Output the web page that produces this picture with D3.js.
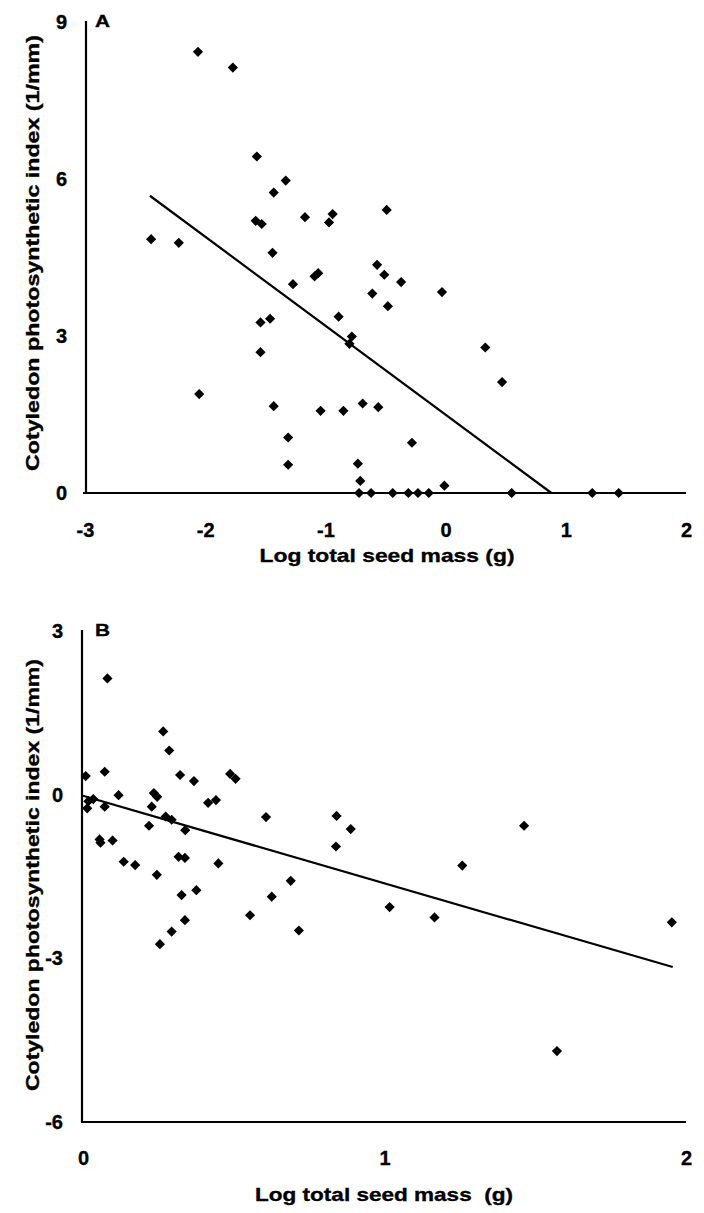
<!DOCTYPE html>
<html>
<head>
<meta charset="utf-8">
<script src="https://cdn.jsdelivr.net/npm/d3@7/dist/d3.min.js"></script>
<style>
  html, body { margin: 0; padding: 0; background: #fff; }
  svg { display: block; }
  text { font-family: "Liberation Sans", Arial, Helvetica, sans-serif; font-weight: bold; fill: #000; stroke: #000; stroke-width: 0.35px; }
</style>
</head>
<body>
<svg id="chart" width="704" height="1213"></svg>
<script>
// ---------- Data ----------
const xTicksA = [-3, -2, -1, 0, 1, 2];
const yTicksA = [0, 3, 6, 9];
const xTicksB = [0, 1, 2];
const yTicksB = [-6, -3, 0, 3];

const seedMassA = [-2.45, -2.22, -2.06, -2.05, -1.77, -1.57, -1.58, -1.53, -1.54, -1.46,
  -1.54, -1.44, -1.43, -1.43, -1.33, -1.31, -1.31, -1.27, -1.17, -1.09,
  -1.06, -1.04, -0.97, -0.94, -0.89, -0.85, -0.78, -0.80, -0.73, -0.71,
  -0.72, -0.69, -0.62, -0.61, -0.57, -0.56, -0.51, -0.49, -0.48, -0.44,
  -0.37, -0.31, -0.28, -0.23, -0.14, -0.03, -0.01, 0.33, 0.47, 0.55,
  1.22, 1.44];
const indexA = [4.85, 4.78, 8.43, 1.89, 8.13, 6.43, 5.20, 5.14, 3.26, 3.33,
  2.69, 4.59, 5.74, 1.66, 5.97, 1.06, 0.54, 3.99, 5.27, 4.14,
  4.20, 1.57, 5.17, 5.33, 3.37, 1.57, 2.99, 2.85, 0.56, 0.23,
  0, 1.71, 0, 3.81, 4.36, 1.64, 4.17, 5.41, 3.57, 0,
  4.03, 0, 0.96, 0, 0, 3.84, 0.14, 2.78, 2.12, 0,
  0, 0];
const fitA = [[-2.46, 5.68], [0.88, 0]];

const seedMassB = [0.009, 0.014, 0.018, 0.034, 0.055, 0.058, 0.072, 0.072, 0.081, 0.098,
  0.118, 0.135, 0.173, 0.219, 0.228, 0.235, 0.246, 0.245, 0.255, 0.266,
  0.274, 0.286, 0.294, 0.294, 0.317, 0.322, 0.327, 0.338, 0.338, 0.339,
  0.368, 0.376, 0.415, 0.441, 0.449, 0.488, 0.506, 0.554, 0.607, 0.626,
  0.689, 0.716, 0.839, 0.841, 0.888, 1.017, 1.166, 1.258, 1.463, 1.572,
  1.953];
const indexB = [0.34, -0.25, -0.12, -0.08, -0.82, -0.88, 0.42, -0.22, 2.13, -0.84,
  -0.01, -1.23, -1.29, -0.57, -0.22, 0.03, -0.04, -1.47, -2.74, 1.16,
  -0.40, 0.81, -0.46, -2.51, -1.14, 0.36, -1.84, -1.16, -2.30, -0.65,
  0.25, -1.75, -0.15, -0.10, -1.26, 0.38, 0.29, -2.21, -0.41, -1.87,
  -1.58, -2.49, -0.95, -0.39, -0.63, -2.06, -2.25, -1.30, -0.57, -4.70,
  -2.34];
const fitB = [[0, -0.02], [1.956, -3.16]];

const yTitle = "Cotyledon photosynthetic index (1/mm)";
const xTitleA = "Log total seed mass (g)";
const xTitleB = "Log total seed mass  (g)";

// ---------- Drawing ----------
const svg = d3.select("#chart");
const tickFont = 20;

function panel(cfg) {
  const g = svg.append("g");
  const x = d3.scaleLinear().domain(cfg.xDomain).range(cfg.xRange);
  const y = d3.scaleLinear().domain(cfg.yDomain).range(cfg.yRange);
  const fmt = d => String(d);

  const yAxis = g.append("g")
    .attr("transform", `translate(${cfg.yAxisX},0)`)
    .call(d3.axisLeft(y).tickValues(cfg.yTicks).tickSize(0).tickPadding(cfg.yPad).tickFormat(fmt));
  const xAxis = g.append("g")
    .attr("transform", `translate(0,${cfg.xAxisY})`)
    .call(d3.axisBottom(x).tickValues(cfg.xTicks).tickSize(0).tickPadding(cfg.xPad).tickFormat(fmt));

  [yAxis, xAxis].forEach(a => {
    a.select(".domain").attr("stroke", "#000").attr("stroke-width", 2.2);
    a.selectAll("text").attr("font-size", tickFont).attr("font-family", null).style("font-weight", "bold");
  });
  yAxis.select(".domain").attr("d", `M0,${cfg.yRange[0]}V${cfg.yRange[1] - 1}`);
  xAxis.select(".domain").attr("d", `M${cfg.xRange[0] - 2},0H${cfg.xRange[1]}`);

  // regression line
  g.append("path")
    .datum(cfg.fit)
    .attr("fill", "none")
    .attr("stroke", "#000")
    .attr("stroke-width", 2.2)
    .attr("d", d3.line().x(d => x(d[0])).y(d => y(d[1])));

  // points
  const sym = d3.symbol().type(d3.symbolSquare).size(52);
  g.selectAll("path.pt")
    .data(cfg.xs.map((v, i) => [v, cfg.ys[i]]))
    .join("path")
    .attr("class", "pt")
    .attr("d", sym)
    .attr("fill", "#000")
    .attr("transform", d => `translate(${x(d[0])},${y(d[1])}) rotate(45)`);

  // panel letter
  g.append("text").attr("x", cfg.letterX).attr("y", cfg.letterY)
    .attr("font-size", 17).attr("textLength", 15).attr("lengthAdjust", "spacingAndGlyphs")
    .text(cfg.letter);

  // axis titles
  g.append("text")
    .attr("x", cfg.xTitleX).attr("y", cfg.xTitleY)
    .attr("text-anchor", "middle").attr("font-size", 19)
    .attr("textLength", cfg.xTitleLen).attr("lengthAdjust", "spacingAndGlyphs")
    .style("white-space", "pre")
    .text(cfg.xTitle);
  g.append("text")
    .attr("transform", `translate(${cfg.yTitleX},${cfg.yTitleY}) rotate(-90)`)
    .attr("text-anchor", "middle").attr("font-size", 19)
    .attr("textLength", cfg.yTitleLen).attr("lengthAdjust", "spacingAndGlyphs")
    .text(yTitle);
}

panel({
  xDomain: [-3, 2], xRange: [85, 686],
  yDomain: [0, 9], yRange: [493, 22],
  yAxisX: 86, xAxisY: 493,
  xTicks: xTicksA, yTicks: yTicksA,
  yPad: 19, xPad: 30,
  xs: seedMassA, ys: indexA, fit: fitA,
  letter: "A", letterX: 95, letterY: 27,
  xTitle: xTitleA, xTitleX: 387, xTitleY: 562, xTitleLen: 255,
  yTitleX: 39, yTitleY: 253, yTitleLen: 436
});

panel({
  xDomain: [0, 2], xRange: [83, 686],
  yDomain: [-6, 3], yRange: [1122, 631],
  yAxisX: 82, xAxisY: 1122,
  xTicks: xTicksB, yTicks: yTicksB,
  yPad: 19, xPad: 29,
  xs: seedMassB, ys: indexB, fit: fitB,
  letter: "B", letterX: 95, letterY: 636,
  xTitle: xTitleB, xTitleX: 384, xTitleY: 1201, xTitleLen: 258,
  yTitleX: 39, yTitleY: 875, yTitleLen: 432
});
</script>
</body>
</html>
